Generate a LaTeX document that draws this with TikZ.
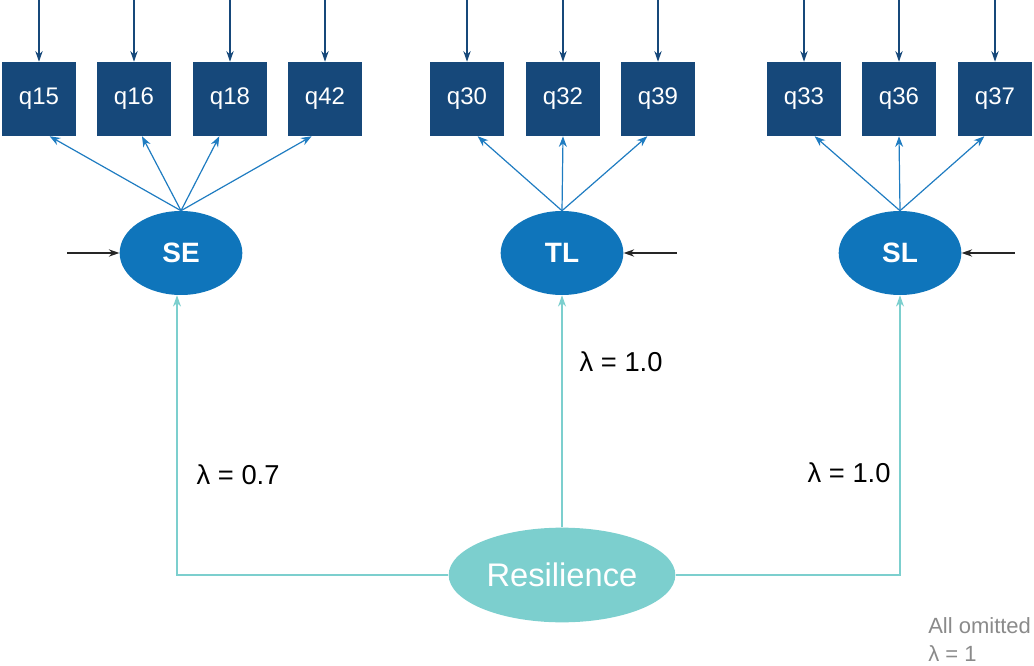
\documentclass[tikz,border=0pt]{standalone}
\usepackage{fontspec}
\setmainfont{Liberation Sans}
\usetikzlibrary{shapes.geometric,arrows.meta}

\definecolor{itemnavy}{HTML}{16487A}
\definecolor{factorblue}{HTML}{0F75BB}
\definecolor{loadblue}{HTML}{1F7CC1}
\definecolor{resteal}{HTML}{7CCFCE}
\definecolor{notegray}{HTML}{8A8A8A}

\begin{document}
\begin{tikzpicture}[x=0.75pt,y=-0.75pt]
		\tikzstyle {item} = [fill=itemnavy, minimum size=55.5pt, inner sep=0pt, text=white, font=\fontsize{18}{21}\selectfont]
		\tikzstyle {factor} = [ellipse, fill=factorblue, minimum width=92pt, minimum height=63pt, inner sep=0pt, text=white, font=\fontsize{21}{24}\selectfont\bfseries]
		\tikzstyle {second} = [ellipse, fill=resteal, minimum width=170pt, minimum height=71pt, inner sep=0pt, text=white, font=\fontsize{24.5}{28}\selectfont]
		\tikzstyle {noise} = [line width=1pt, -{Stealth[length=8pt,width=5.5pt]}]
		\tikzstyle {load} = [line width=0.9pt, draw=loadblue, -{Stealth[length=8pt,width=6pt]}]
		\tikzstyle {path} = [line width=1.1pt, draw=resteal, -{Stealth[length=8.5pt,width=6pt]}]
		\tikzstyle {lam} = [anchor=west, font=\fontsize{20.5}{24}\selectfont]

		\useasboundingbox (0,0) rectangle (1034,666);

		% observed items
		\node[item] (q15) at (39,99) {q15};
		\node[item] (q16) at (134,99) {q16};
		\node[item] (q18) at (230,99) {q18};
		\node[item] (q42) at (325,99) {q42};
		\node[item] (q30) at (467,99) {q30};
		\node[item] (q32) at (563,99) {q32};
		\node[item] (q39) at (658,99) {q39};
		\node[item] (q33) at (804,99) {q33};
		\node[item] (q36) at (899,99) {q36};
		\node[item] (q37) at (995,99) {q37};

		% first-order factors
		\node[factor] (SE) at (181,253) {SE};
		\node[factor] (TL) at (562,253) {TL};
		\node[factor] (SL) at (900,253) {SL};

		% second-order factor
		\node[second] (Res) at (562,575) {Resilience};

		% item residuals
		\draw[noise, draw=itemnavy] (q15.north) +(0,-62) -- (q15.north);
		\draw[noise, draw=itemnavy] (q16.north) +(0,-62) -- (q16.north);
		\draw[noise, draw=itemnavy] (q18.north) +(0,-62) -- (q18.north);
		\draw[noise, draw=itemnavy] (q42.north) +(0,-62) -- (q42.north);
		\draw[noise, draw=itemnavy] (q30.north) +(0,-62) -- (q30.north);
		\draw[noise, draw=itemnavy] (q32.north) +(0,-62) -- (q32.north);
		\draw[noise, draw=itemnavy] (q39.north) +(0,-62) -- (q39.north);
		\draw[noise, draw=itemnavy] (q33.north) +(0,-62) -- (q33.north);
		\draw[noise, draw=itemnavy] (q36.north) +(0,-62) -- (q36.north);
		\draw[noise, draw=itemnavy] (q37.north) +(0,-62) -- (q37.north);

		% factor residuals
		\draw[noise, draw=black!85] (SE.west) +(-52,0) -- (SE.west);
		\draw[noise, draw=black!85] (TL.east) +(53,0) -- (TL.east);
		\draw[noise, draw=black!85] (SL.east) +(53,0) -- (SL.east);

		% loadings
		\draw[load] (SE.north) -- ([xshift=8]q15.south);
		\draw[load] (SE.north) -- ([xshift=6]q16.south);
		\draw[load] (SE.north) -- ([xshift=-8]q18.south);
		\draw[load] (SE.north) -- ([xshift=-10]q42.south);
		\draw[load] (TL.north) -- ([xshift=8]q30.south);
		\draw[load] (TL.north) -- (q32.south);
		\draw[load] (TL.north) -- ([xshift=-8]q39.south);
		\draw[load] (SL.north) -- ([xshift=8]q33.south);
		\draw[load] (SL.north) -- (q36.south);
		\draw[load] (SL.north) -- ([xshift=-8]q37.south);

		% second-order paths
		\draw[path] (Res.west) -| ([xshift=-3]SE.south);
		\draw[path] (Res.north) -- (TL.south);
		\draw[path] (Res.east) -| (SL.south);

		\node[lam] (l1) at (192,475) {λ = 0.7};
		\node[lam] (l2) at (575,362) {λ = 1.0};
		\node[lam] (l3) at (803,473) {λ = 1.0};

		\node[anchor=north west, align=left, text=notegray, font=\fontsize{16.5}{21}\selectfont, inner sep=0pt] (note) at (928,617) {All omitted\\λ = 1};

	\end{tikzpicture}
\end{document}
